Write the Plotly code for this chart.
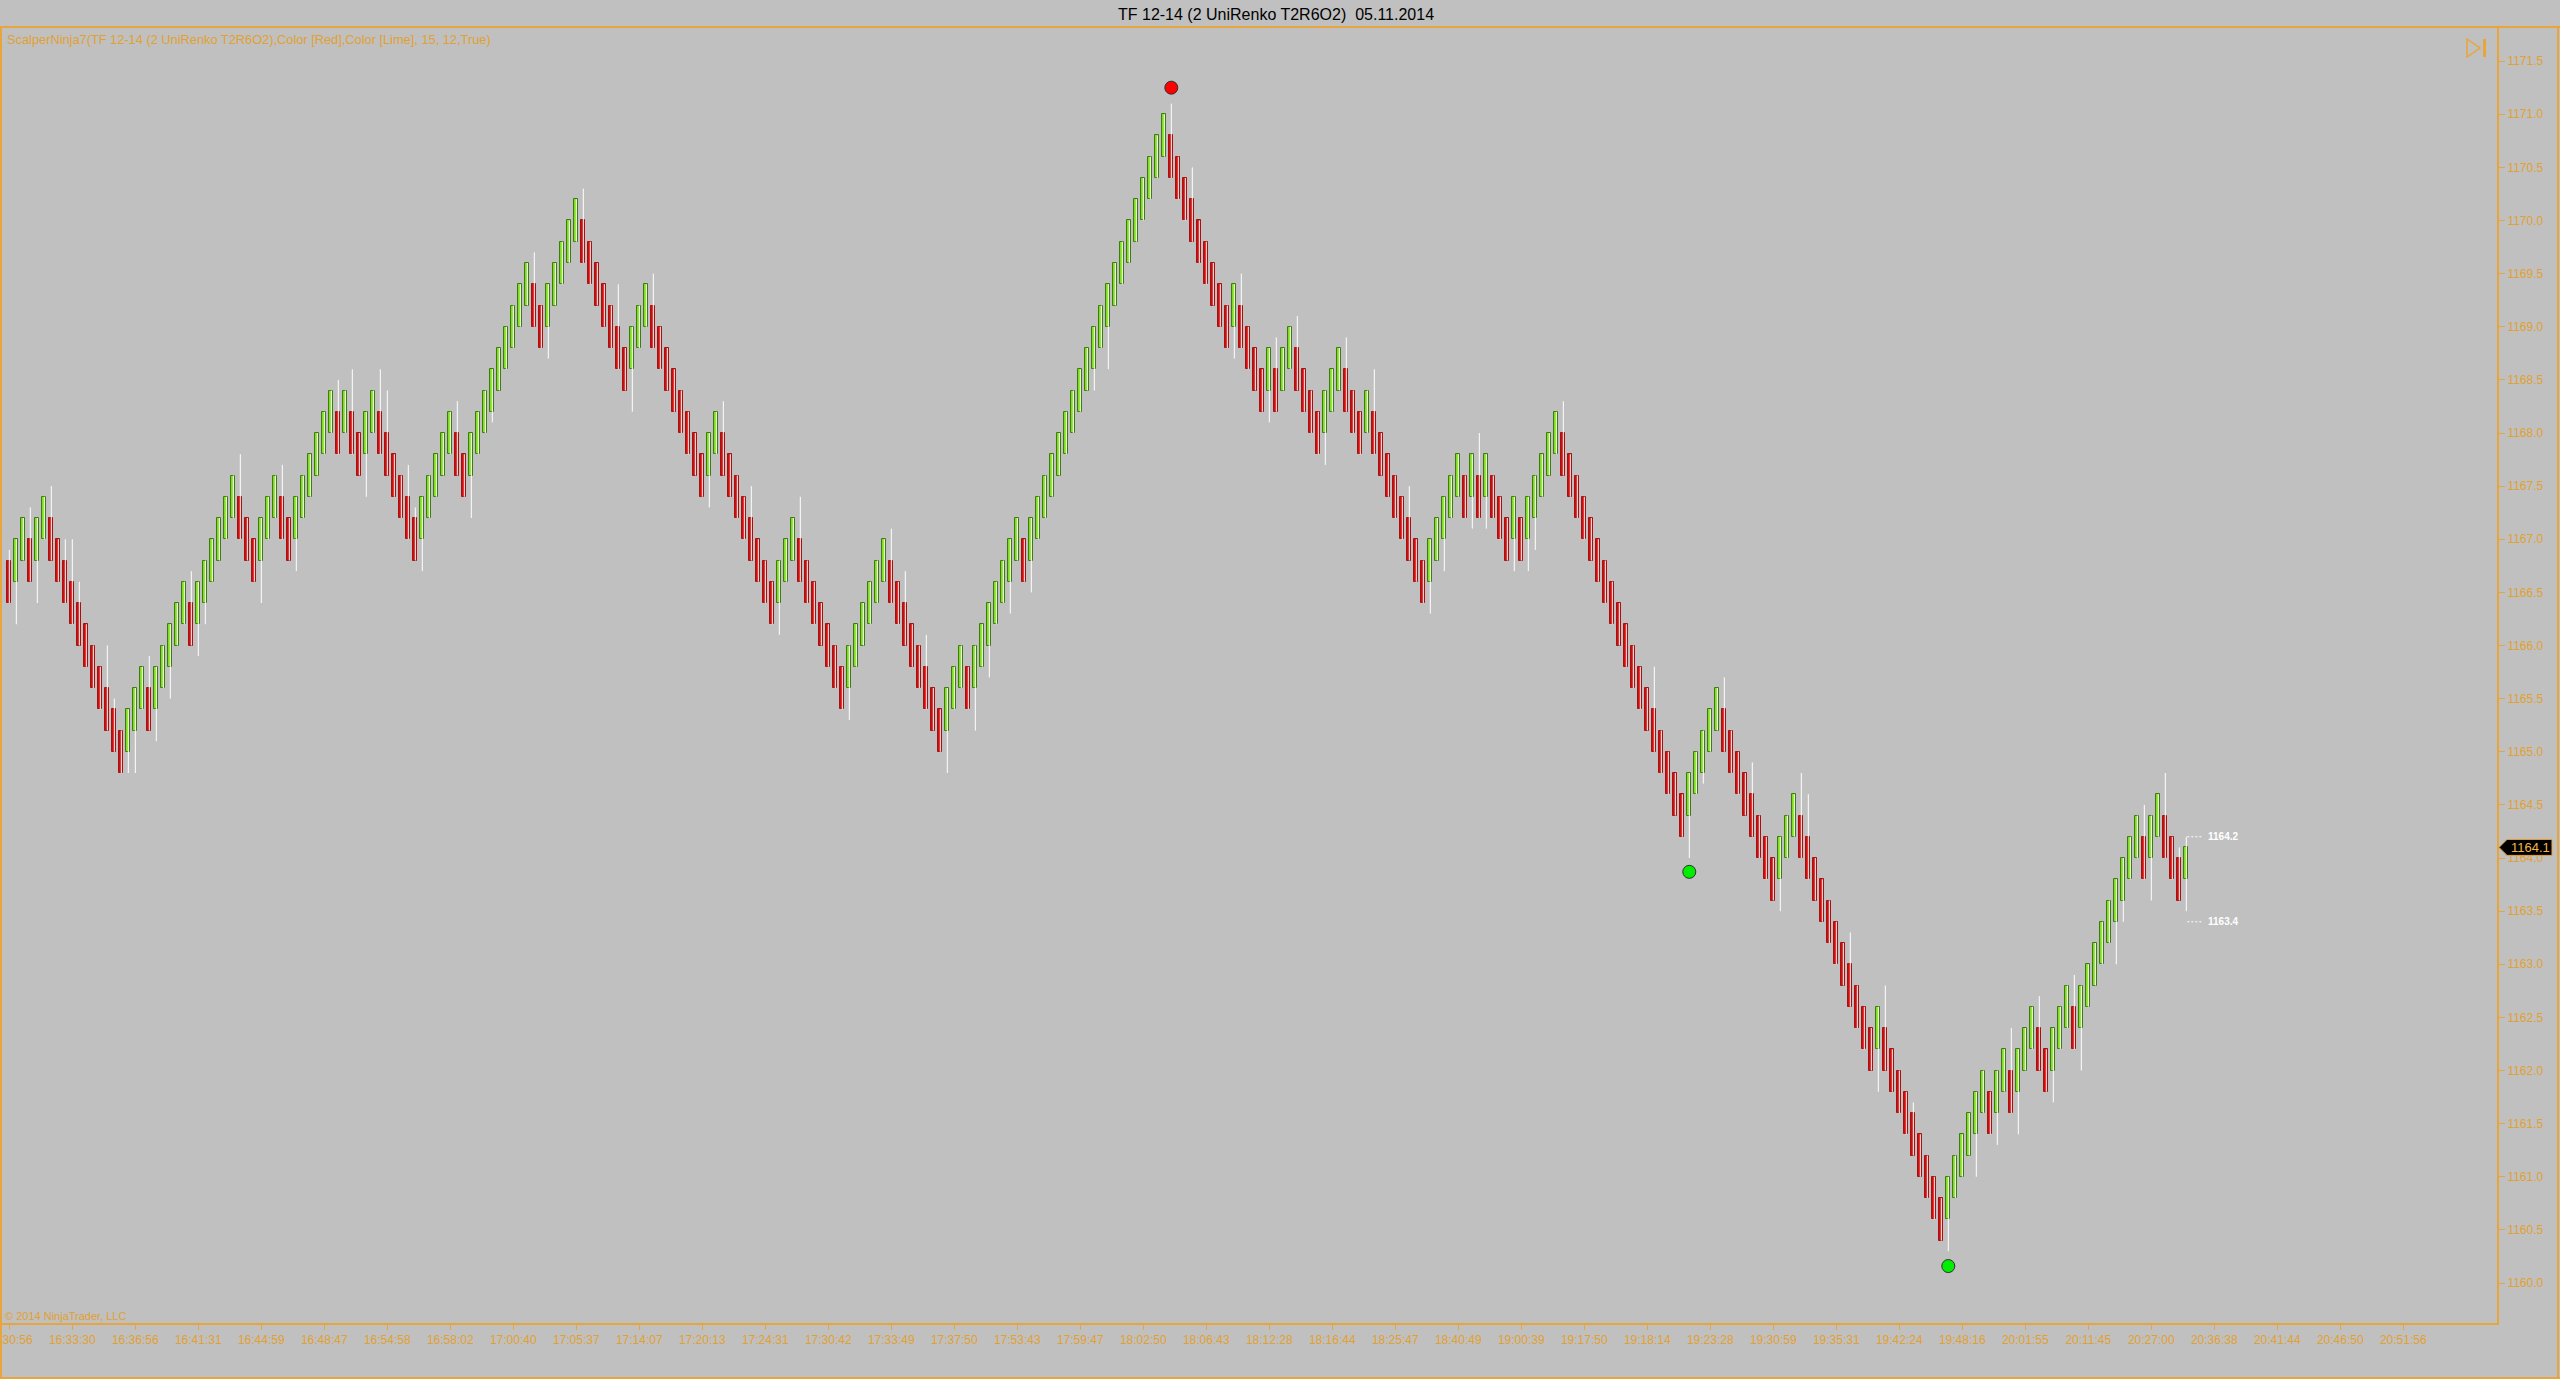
import plotly.graph_objects as go

# ---------------- data ----------------
opens = [
    1166.8, 1166.6, 1166.8, 1167.0, 1166.8, 1167.0, 1167.2, 1167.0, 1166.8, 1166.6,  # 0
    1166.4, 1166.2, 1166.0, 1165.8, 1165.6, 1165.4, 1165.2, 1165.0, 1165.2, 1165.4,  # 10
    1165.6, 1165.4, 1165.6, 1165.8, 1166.0, 1166.2, 1166.4, 1166.2, 1166.4, 1166.6,  # 20
    1166.8, 1167.0, 1167.2, 1167.4, 1167.2, 1167.0, 1166.8, 1167.0, 1167.2, 1167.4,  # 30
    1167.2, 1167.0, 1167.2, 1167.4, 1167.6, 1167.8, 1168.0, 1168.2, 1168.0, 1168.2,  # 40
    1168.0, 1167.8, 1168.0, 1168.2, 1168.0, 1167.8, 1167.6, 1167.4, 1167.2, 1167.0,  # 50
    1167.2, 1167.4, 1167.6, 1167.8, 1168.0, 1167.8, 1167.6, 1167.8, 1168.0, 1168.2,  # 60
    1168.4, 1168.6, 1168.8, 1169.0, 1169.2, 1169.4, 1169.2, 1169.0, 1169.2, 1169.4,  # 70
    1169.6, 1169.8, 1170.0, 1169.8, 1169.6, 1169.4, 1169.2, 1169.0, 1168.8, 1168.6,  # 80
    1168.8, 1169.0, 1169.2, 1169.0, 1168.8, 1168.6, 1168.4, 1168.2, 1168.0, 1167.8,  # 90
    1167.6, 1167.8, 1168.0, 1167.8, 1167.6, 1167.4, 1167.2, 1167.0, 1166.8, 1166.6,  # 100
    1166.4, 1166.6, 1166.8, 1167.0, 1166.8, 1166.6, 1166.4, 1166.2, 1166.0, 1165.8,  # 110
    1165.6, 1165.8, 1166.0, 1166.2, 1166.4, 1166.6, 1166.8, 1166.6, 1166.4, 1166.2,  # 120
    1166.0, 1165.8, 1165.6, 1165.4, 1165.2, 1165.4, 1165.6, 1165.8, 1165.6, 1165.8,  # 130
    1166.0, 1166.2, 1166.4, 1166.6, 1166.8, 1167.0, 1166.8, 1167.0, 1167.2, 1167.4,  # 140
    1167.6, 1167.8, 1168.0, 1168.2, 1168.4, 1168.6, 1168.8, 1169.0, 1169.2, 1169.4,  # 150
    1169.6, 1169.8, 1170.0, 1170.2, 1170.4, 1170.6, 1170.8, 1170.6, 1170.4, 1170.2,  # 160
    1170.0, 1169.8, 1169.6, 1169.4, 1169.2, 1169.0, 1169.2, 1169.0, 1168.8, 1168.6,  # 170
    1168.4, 1168.6, 1168.4, 1168.6, 1168.8, 1168.6, 1168.4, 1168.2, 1168.0, 1168.2,  # 180
    1168.4, 1168.6, 1168.4, 1168.2, 1168.0, 1168.2, 1168.0, 1167.8, 1167.6, 1167.4,  # 190
    1167.2, 1167.0, 1166.8, 1166.6, 1166.8, 1167.0, 1167.2, 1167.4, 1167.6, 1167.4,  # 200
    1167.6, 1167.4, 1167.6, 1167.4, 1167.2, 1167.0, 1167.2, 1167.0, 1167.2, 1167.4,  # 210
    1167.6, 1167.8, 1168.0, 1167.8, 1167.6, 1167.4, 1167.2, 1167.0, 1166.8, 1166.6,  # 220
    1166.4, 1166.2, 1166.0, 1165.8, 1165.6, 1165.4, 1165.2, 1165.0, 1164.8, 1164.6,  # 230
    1164.4, 1164.6, 1164.8, 1165.0, 1165.2, 1165.4, 1165.2, 1165.0, 1164.8, 1164.6,  # 240
    1164.4, 1164.2, 1164.0, 1163.8, 1164.0, 1164.2, 1164.4, 1164.2, 1164.0, 1163.8,  # 250
    1163.6, 1163.4, 1163.2, 1163.0, 1162.8, 1162.6, 1162.4, 1162.2, 1162.4, 1162.2,  # 260
    1162.0, 1161.8, 1161.6, 1161.4, 1161.2, 1161.0, 1160.8, 1160.6, 1160.8, 1161.0,  # 270
    1161.2, 1161.4, 1161.6, 1161.8, 1161.6, 1161.8, 1162.0, 1161.8, 1162.0, 1162.2,  # 280
    1162.4, 1162.2, 1162.0, 1162.2, 1162.4, 1162.6, 1162.4, 1162.6, 1162.8, 1163.0,  # 290
    1163.2, 1163.4, 1163.6, 1163.8, 1164.0, 1164.2, 1164.0, 1164.2, 1164.4, 1164.2,  # 300
    1164.0, 1163.8,                                                                  # 310
]
closes = [
    1166.4, 1167.0, 1167.2, 1166.6, 1167.2, 1167.4, 1166.8, 1166.6, 1166.4, 1166.2,  # 0
    1166.0, 1165.8, 1165.6, 1165.4, 1165.2, 1165.0, 1164.8, 1165.4, 1165.6, 1165.8,  # 10
    1165.2, 1165.8, 1166.0, 1166.2, 1166.4, 1166.6, 1166.0, 1166.6, 1166.8, 1167.0,  # 20
    1167.2, 1167.4, 1167.6, 1167.0, 1166.8, 1166.6, 1167.2, 1167.4, 1167.6, 1167.0,  # 30
    1166.8, 1167.4, 1167.6, 1167.8, 1168.0, 1168.2, 1168.4, 1167.8, 1168.4, 1167.8,  # 40
    1167.6, 1168.2, 1168.4, 1167.8, 1167.6, 1167.4, 1167.2, 1167.0, 1166.8, 1167.4,  # 50
    1167.6, 1167.8, 1168.0, 1168.2, 1167.6, 1167.4, 1168.0, 1168.2, 1168.4, 1168.6,  # 60
    1168.8, 1169.0, 1169.2, 1169.4, 1169.6, 1169.0, 1168.8, 1169.4, 1169.6, 1169.8,  # 70
    1170.0, 1170.2, 1169.6, 1169.4, 1169.2, 1169.0, 1168.8, 1168.6, 1168.4, 1169.0,  # 80
    1169.2, 1169.4, 1168.8, 1168.6, 1168.4, 1168.2, 1168.0, 1167.8, 1167.6, 1167.4,  # 90
    1168.0, 1168.2, 1167.6, 1167.4, 1167.2, 1167.0, 1166.8, 1166.6, 1166.4, 1166.2,  # 100
    1166.8, 1167.0, 1167.2, 1166.6, 1166.4, 1166.2, 1166.0, 1165.8, 1165.6, 1165.4,  # 110
    1166.0, 1166.2, 1166.4, 1166.6, 1166.8, 1167.0, 1166.4, 1166.2, 1166.0, 1165.8,  # 120
    1165.6, 1165.4, 1165.2, 1165.0, 1165.6, 1165.8, 1166.0, 1165.4, 1166.0, 1166.2,  # 130
    1166.4, 1166.6, 1166.8, 1167.0, 1167.2, 1166.6, 1167.2, 1167.4, 1167.6, 1167.8,  # 140
    1168.0, 1168.2, 1168.4, 1168.6, 1168.8, 1169.0, 1169.2, 1169.4, 1169.6, 1169.8,  # 150
    1170.0, 1170.2, 1170.4, 1170.6, 1170.8, 1171.0, 1170.4, 1170.2, 1170.0, 1169.8,  # 160
    1169.6, 1169.4, 1169.2, 1169.0, 1168.8, 1169.4, 1168.8, 1168.6, 1168.4, 1168.2,  # 170
    1168.8, 1168.2, 1168.8, 1169.0, 1168.4, 1168.2, 1168.0, 1167.8, 1168.4, 1168.6,  # 180
    1168.8, 1168.2, 1168.0, 1167.8, 1168.4, 1167.8, 1167.6, 1167.4, 1167.2, 1167.0,  # 190
    1166.8, 1166.6, 1166.4, 1167.0, 1167.2, 1167.4, 1167.6, 1167.8, 1167.2, 1167.8,  # 200
    1167.2, 1167.8, 1167.2, 1167.0, 1166.8, 1167.4, 1166.8, 1167.4, 1167.6, 1167.8,  # 210
    1168.0, 1168.2, 1167.6, 1167.4, 1167.2, 1167.0, 1166.8, 1166.6, 1166.4, 1166.2,  # 220
    1166.0, 1165.8, 1165.6, 1165.4, 1165.2, 1165.0, 1164.8, 1164.6, 1164.4, 1164.2,  # 230
    1164.8, 1165.0, 1165.2, 1165.4, 1165.6, 1165.0, 1164.8, 1164.6, 1164.4, 1164.2,  # 240
    1164.0, 1163.8, 1163.6, 1164.2, 1164.4, 1164.6, 1164.0, 1163.8, 1163.6, 1163.4,  # 250
    1163.2, 1163.0, 1162.8, 1162.6, 1162.4, 1162.2, 1162.0, 1162.6, 1162.0, 1161.8,  # 260
    1161.6, 1161.4, 1161.2, 1161.0, 1160.8, 1160.6, 1160.4, 1161.0, 1161.2, 1161.4,  # 270
    1161.6, 1161.8, 1162.0, 1161.4, 1162.0, 1162.2, 1161.6, 1162.2, 1162.4, 1162.6,  # 280
    1162.0, 1161.8, 1162.4, 1162.6, 1162.8, 1162.2, 1162.8, 1163.0, 1163.2, 1163.4,  # 290
    1163.6, 1163.8, 1164.0, 1164.2, 1164.4, 1163.8, 1164.4, 1164.6, 1164.0, 1163.8,  # 300
    1163.6, 1164.1,                                                                  # 310
]
# wick ends that stick out beyond the body (bar index -> price)
upper_wick = {
    0: 1166.9, 3: 1167.3, 6: 1167.5, 8: 1167.0, 9: 1167.0, 10: 1166.6, 14: 1166.0,
    15: 1165.5, 20: 1165.9, 26: 1166.7, 33: 1167.8, 39: 1167.7, 47: 1168.5, 49: 1168.6,
    53: 1168.6, 54: 1168.4, 57: 1167.7, 58: 1167.3, 64: 1168.3, 75: 1169.7, 82: 1170.3,
    87: 1169.4, 92: 1169.5, 102: 1168.3, 106: 1167.5, 113: 1167.4, 126: 1167.1,
    128: 1166.7, 131: 1166.1, 166: 1171.1, 169: 1170.5, 176: 1169.5, 181: 1168.9,
    184: 1169.1, 191: 1168.9, 195: 1168.6, 200: 1167.5, 210: 1168.0, 222: 1168.3,
    235: 1165.8, 245: 1165.7, 249: 1164.9, 256: 1164.8, 257: 1164.6, 263: 1163.3,
    268: 1162.8, 272: 1161.7, 286: 1162.4, 290: 1162.7, 295: 1162.9, 305: 1164.5,
    308: 1164.8, 310: 1164.1, 311: 1164.2,
}
lower_wick = {
    1: 1166.2, 4: 1166.4, 17: 1164.8, 18: 1164.8, 21: 1165.1, 23: 1165.5, 27: 1165.9,
    28: 1166.2, 36: 1166.4, 41: 1166.7, 51: 1167.4, 59: 1166.7, 66: 1167.2, 69: 1168.1,
    77: 1168.7, 89: 1168.2, 100: 1167.3, 110: 1166.1, 120: 1165.3, 134: 1164.8,
    138: 1165.2, 140: 1165.7, 143: 1166.3, 146: 1166.5, 155: 1168.4, 157: 1168.6,
    175: 1168.7, 180: 1168.1, 188: 1167.7, 203: 1166.3, 205: 1166.7, 209: 1167.1,
    211: 1167.1, 215: 1166.7, 217: 1166.7, 218: 1166.9, 240: 1164.0, 242: 1164.7,
    253: 1163.5, 267: 1161.8, 277: 1160.3, 281: 1161.0, 284: 1161.3, 287: 1161.4,
    292: 1161.7, 296: 1162.0, 301: 1163.0, 302: 1163.4, 306: 1163.6, 311: 1163.5,
}
tick_labels = [
    "16:30:56", "16:33:30", "16:36:56", "16:41:31", "16:44:59", "16:48:47", "16:54:58",
    "16:58:02", "17:00:40", "17:05:37", "17:14:07", "17:20:13", "17:24:31", "17:30:42",
    "17:33:49", "17:37:50", "17:53:43", "17:59:47", "18:02:50", "18:06:43", "18:12:28",
    "18:16:44", "18:25:47", "18:40:49", "19:00:39", "19:17:50", "19:18:14", "19:23:28",
    "19:30:59", "19:35:31", "19:42:24", "19:48:16", "20:01:55", "20:11:45", "20:27:00",
    "20:36:38", "20:41:44", "20:46:50", "20:51:56",
]
bars_per_label = 9
signal_bars = [166, 240, 277]
signal_prices = [1171.25, 1163.87, 1160.16]
signal_colors = ["#FF0000", "#00EE00", "#00EE00"]
last_price = 1164.1
next_levels = [1164.2, 1163.4]

# ---------------- styling ----------------
W, H = 2560, 1379
PL, PR, PT, PB = 2, 2497, 27, 1323          # plot area in pixels
BG = "#C0C0C0"
ORANGE = "#E8A53C"
TXT = "#E0A032"
FONT = "Liberation Sans, Arial, sans-serif"
UP_FILL, UP_EDGE = "#7FDC1C", "#3F7A16"
DN_FILL, DN_EDGE = "#D00C0C", "#A01414"


def px(x):
    return (x - PL) / (PR - PL)


def py(y):
    return (PB - y) / (PB - PT)


n = len(opens)
idx = list(range(n))
highs = [upper_wick.get(i, max(opens[i], closes[i])) for i in idx]
lows = [lower_wick.get(i, min(opens[i], closes[i])) for i in idx]

wx, wy = [], []
for i in idx:
    wx += [i, i, None]
    wy += [lows[i], highs[i], None]

up = [closes[i] >= opens[i] for i in idx]
fig = go.Figure()
fig.add_trace(go.Scatter(x=wx, y=wy, mode="lines", line=dict(color="#FFFFFF", width=1),
                         hoverinfo="skip"))
fig.add_trace(go.Bar(
    x=idx,
    base=[min(opens[i], closes[i]) for i in idx],
    y=[abs(closes[i] - opens[i]) for i in idx],
    width=0.6,
    marker=dict(color=[UP_FILL if u else DN_FILL for u in up],
                line=dict(color=[UP_EDGE if u else DN_EDGE for u in up], width=1)),
))
fig.add_trace(go.Scatter(
    x=signal_bars, y=signal_prices, mode="markers",
    marker=dict(size=13, color=signal_colors, line=dict(color="#303030", width=1)),
))
# next-bar levels
for lv in next_levels:
    fig.add_trace(go.Scatter(x=[n - 1 + 0.15, n - 1 + 2.2], y=[lv, lv], mode="lines",
                             line=dict(color="#FFFFFF", width=1, dash="2px,2px")))
    fig.add_annotation(x=n - 1 + 2.8, y=lv, text="<b>%.1f</b>" % lv, showarrow=False,
                       xanchor="left", yanchor="middle",
                       font=dict(family=FONT, size=10, color="#FFFFFF"))

tickvals = [k * bars_per_label for k in range(len(tick_labels))]

fig.update_layout(
    width=W, height=H,
    margin=dict(l=PL, r=W - PR, t=PT, b=H - PB, pad=0, autoexpand=False),
    paper_bgcolor=BG, plot_bgcolor=BG,
    showlegend=False, barmode="overlay", bargap=0,
    xaxis=dict(range=[(PL - 9.3) / 7.0, (PR - 9.3) / 7.0], tickmode="array",
               tickvals=tickvals, ticktext=tick_labels, ticks="outside", ticklen=5,
               tickwidth=1, tickcolor=ORANGE, showline=True, linecolor=ORANGE,
               linewidth=2, showgrid=False, zeroline=False, ticklabeloverflow="allow",
               automargin=False,
               tickfont=dict(family=FONT, size=12, color=TXT)),
    yaxis=dict(range=[1159.624, 1171.821], side="right", tick0=1160, dtick=0.5,
               tickformat=".1f", ticks="outside", ticklen=6, tickwidth=1,
               tickcolor=ORANGE, showline=True, linecolor=ORANGE, linewidth=2,
               showgrid=False, zeroline=False, automargin=False,
               tickfont=dict(family=FONT, size=12, color=TXT)),
)

line = dict(color=ORANGE, width=2)
shapes = [
    dict(type="line", xref="paper", yref="paper", x0=px(0), x1=px(W), y0=py(27), y1=py(27), line=line),
    dict(type="line", xref="paper", yref="paper", x0=px(1), x1=px(1), y0=py(27), y1=py(H), line=line),
    dict(type="line", xref="paper", yref="paper", x0=px(2558), x1=px(2558), y0=py(27), y1=py(H), line=line),
    dict(type="line", xref="paper", yref="paper", x0=px(0), x1=px(W), y0=py(1378), y1=py(1378), line=line),
    # play-to-end icon
    dict(type="path", xref="paper", yref="paper",
         path="M %f %f L %f %f L %f %f Z" % (px(2467), py(39), px(2480), py(48), px(2467), py(57)),
         line=dict(color=ORANGE, width=1.5)),
    dict(type="rect", xref="paper", yref="paper", x0=px(2483), x1=px(2486), y0=py(39), y1=py(57),
         line=dict(color=ORANGE, width=0), fillcolor=ORANGE),
]
hh = 8 / 106.25
shapes.append(dict(
    type="path", xref="paper", yref="y",
    path="M %f %f L %f %f L %f %f L %f %f L %f %f Z" % (
        px(2499), last_price, px(2507), last_price + hh, px(2552), last_price + hh,
        px(2552), last_price - hh, px(2507), last_price - hh),
    fillcolor="#000000", line=dict(color=ORANGE, width=1)))
fig.update_layout(shapes=shapes)

fig.add_annotation(xref="paper", yref="y", x=px(2530), y=last_price, text="%.1f" % last_price,
                   showarrow=False, xanchor="center", yanchor="middle",
                   font=dict(family=FONT, size=13, color="#F2B848"))
fig.add_annotation(xref="paper", yref="paper", x=px(1276), y=py(14),
                   text="TF 12-14 (2 UniRenko T2R6O2) \u00a005.11.2014", showarrow=False,
                   xanchor="center", yanchor="middle",
                   font=dict(family=FONT, size=16, color="#000000"))
fig.add_annotation(xref="paper", yref="paper", x=px(5), y=py(40),
                   text="ScalperNinja7(TF 12-14 (2 UniRenko T2R6O2),Color [Red],Color [Lime], 15, 12,True)",
                   showarrow=False, xanchor="left", yanchor="middle",
                   font=dict(family=FONT, size=12.8, color=TXT))
fig.add_annotation(xref="paper", yref="paper", x=px(3), y=py(1316),
                   text="\u00a9 2014 NinjaTrader, LLC", showarrow=False,
                   xanchor="left", yanchor="middle",
                   font=dict(family=FONT, size=11, color=TXT))

fig.write_html("out.html", config={"displayModeBar": False},
               post_script="document.body.style.margin='0px';document.body.style.padding='0px';document.body.style.overflow='hidden';document.body.style.background='%s';" % BG)
